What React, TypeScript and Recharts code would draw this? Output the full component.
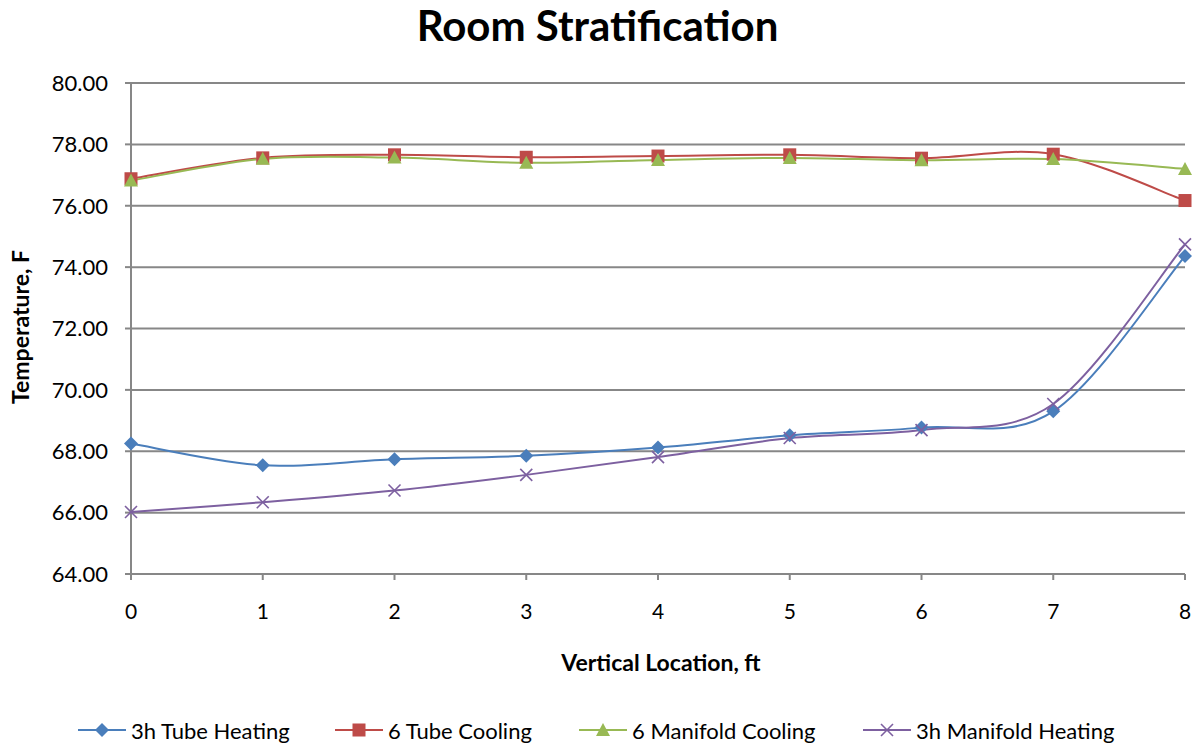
import { LineChart, Line, XAxis, YAxis, CartesianGrid, Legend } from "recharts";

// vertical position in the room, ft
const heights = [0, 1, 2, 3, 4, 5, 6, 7, 8];

// measured temperatures, °F
const tubeHeating3h = [68.25, 67.54, 67.74, 67.85, 68.12, 68.52, 68.77, 69.3, 74.36];
const tubeCooling6 = [76.88, 77.56, 77.66, 77.58, 77.62, 77.66, 77.55, 77.68, 76.17];
const manifoldCooling6 = [76.82, 77.53, 77.57, 77.4, 77.49, 77.56, 77.48, 77.52, 77.2];
const manifoldHeating3h = [66.02, 66.34, 66.72, 67.23, 67.81, 68.43, 68.69, 69.54, 74.74];

const yTicks = [64, 66, 68, 70, 72, 74, 76, 78, 80];

const FONT = "Lato, 'Open Sans', sans-serif";

const rows = heights.map((h, i) => ({
  x: h,
  tubeHeating3h: tubeHeating3h[i],
  tubeCooling6: tubeCooling6[i],
  manifoldCooling6: manifoldCooling6[i],
  manifoldHeating3h: manifoldHeating3h[i],
}));

// spreadsheet-style smoothed line (Catmull-Rom as cubic beziers)
function smoothCurve(context: any) {
  let pts: [number, number][] = [];
  return {
    areaStart() {},
    areaEnd() {},
    lineStart() {
      pts = [];
    },
    lineEnd() {
      if (!pts.length) return;
      context.moveTo(pts[0][0], pts[0][1]);
      for (let i = 0; i < pts.length - 1; i++) {
        const p0 = pts[Math.max(i - 1, 0)];
        const p1 = pts[i];
        const p2 = pts[i + 1];
        const p3 = pts[Math.min(i + 2, pts.length - 1)];
        context.bezierCurveTo(
          p1[0] + (p2[0] - p0[0]) / 6,
          p1[1] + (p2[1] - p0[1]) / 6,
          p2[0] - (p3[0] - p1[0]) / 6,
          p2[1] - (p3[1] - p1[1]) / 6,
          p2[0],
          p2[1]
        );
      }
    },
    point(x: number, y: number) {
      pts.push([+x, +y]);
    },
  };
}

type Shape = "diamond" | "square" | "triangle" | "cross";

function Marker({ shape, cx, cy, color }: { shape: Shape; cx: number; cy: number; color: string }) {
  if (shape === "diamond") {
    const r = 7;
    return <polygon points={`${cx},${cy - r} ${cx + r},${cy} ${cx},${cy + r} ${cx - r},${cy}`} fill={color} />;
  }
  if (shape === "square") {
    return <rect x={cx - 6.5} y={cy - 6.5} width={13} height={13} fill={color} />;
  }
  if (shape === "triangle") {
    return <polygon points={`${cx},${cy - 7} ${cx + 7},${cy + 6} ${cx - 7},${cy + 6}`} fill={color} />;
  }
  return (
    <g stroke={color} strokeWidth={1.6}>
      <line x1={cx - 6} y1={cy - 6} x2={cx + 6} y2={cy + 6} />
      <line x1={cx - 6} y1={cy + 6} x2={cx + 6} y2={cy - 6} />
    </g>
  );
}

const series: { key: string; name: string; color: string; shape: Shape; legendX: number }[] = [
  { key: "tubeHeating3h", name: "3h Tube Heating", color: "#4A7EBB", shape: "diamond", legendX: 78 },
  { key: "tubeCooling6", name: "6 Tube Cooling", color: "#BE4B48", shape: "square", legendX: 335 },
  { key: "manifoldCooling6", name: "6 Manifold Cooling", color: "#98B954", shape: "triangle", legendX: 579 },
  { key: "manifoldHeating3h", name: "3h Manifold Heating", color: "#7D60A0", shape: "cross", legendX: 863 },
];

function LegendRow() {
  return (
    <div style={{ position: "relative", width: 1195, height: 30 }}>
      {series.map((s) => (
        <div
          key={s.key}
          style={{ position: "absolute", left: s.legendX, top: 0, display: "flex", alignItems: "center", height: 30 }}
        >
          <svg width={50} height={30}>
            <line x1={0} y1={15} x2={48} y2={15} stroke={s.color} strokeWidth={2} />
            <Marker shape={s.shape} cx={24} cy={15} color={s.color} />
          </svg>
          <span style={{ fontFamily: FONT, fontSize: 22, color: "#000", marginLeft: 3 }}>{s.name}</span>
        </div>
      ))}
    </div>
  );
}

const axisTitle = {
  position: "absolute" as const,
  whiteSpace: "nowrap" as const,
  fontFamily: FONT,
  fontWeight: 700,
  fontSize: 23,
  color: "#000",
};

export default function App() {
  return (
    <div style={{ position: "absolute", left: 0, top: 0, width: 1195, height: 744, background: "#fff" }}>
      <div
        style={{
          position: "absolute",
          left: 0,
          width: 1195,
          top: 0,
          textAlign: "center",
          fontFamily: FONT,
          fontWeight: 700,
          fontSize: 42,
          color: "#000",
        }}
      >
        Room Stratification
      </div>
      <div style={{ ...axisTitle, left: 20, top: 327, transform: "translate(-50%, -50%) rotate(-90deg)" }}>
        Temperature, F
      </div>
      <div style={{ ...axisTitle, left: 661, top: 662, transform: "translate(-50%, -50%)" }}>
        Vertical Location, ft
      </div>
      <LineChart width={1195} height={744} data={rows} margin={{ top: 83, right: 10, bottom: 80, left: 0 }}>
        <CartesianGrid vertical={false} stroke="#878787" strokeWidth={2} />
        <XAxis
          dataKey="x"
          type="number"
          domain={[0, 8]}
          ticks={heights}
          height={60}
          stroke="#878787"
          strokeWidth={2}
          tickSize={6}
          tickMargin={24}
          tick={{ fill: "#000", fontSize: 21, fontFamily: FONT }}
        />
        <YAxis
          type="number"
          domain={[64, 80]}
          ticks={yTicks}
          width={131}
          stroke="#878787"
          strokeWidth={2}
          tickSize={6}
          tickMargin={17}
          tickFormatter={(v: number) => v.toFixed(2)}
          tick={{ fill: "#000", fontSize: 22, fontFamily: FONT }}
        />
        {series.map((s) => (
          <Line
            key={s.key}
            dataKey={s.key}
            name={s.name}
            type={smoothCurve as any}
            stroke={s.color}
            strokeWidth={2}
            isAnimationActive={false}
            dot={(p: any) => <Marker key={`${s.key}-${p.index}`} shape={s.shape} cx={p.cx} cy={p.cy} color={s.color} />}
            activeDot={false}
          />
        ))}
        <Legend
          content={() => <LegendRow />}
          wrapperStyle={{ position: "absolute", left: 0, top: 715, width: 1195 }}
        />
      </LineChart>
    </div>
  );
}
